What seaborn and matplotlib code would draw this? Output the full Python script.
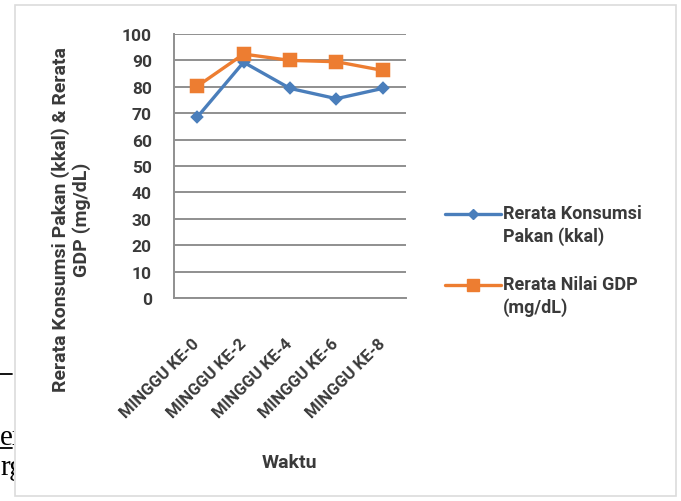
import numpy as np
import pandas as pd
import matplotlib.pyplot as plt
import seaborn as sns
from matplotlib.lines import Line2D
from matplotlib.patches import Rectangle
from matplotlib.ticker import MultipleLocator
from matplotlib.transforms import Bbox, TransformedBbox

weeks = ['MINGGU KE-0', 'MINGGU KE-2', 'MINGGU KE-4', 'MINGGU KE-6', 'MINGGU KE-8']
konsumsi_pakan = [68.5, 89.3, 79.4, 75.5, 79.4]
nilai_gdp = [80.2, 92.4, 90.0, 89.5, 86.2]
series_names = ['Rerata Konsumsi\nPakan (kkal)', 'Rerata Nilai GDP\n(mg/dL)']
y_ticks = list(range(0, 101, 10))

df = pd.DataFrame({
    'Waktu': weeks * 2,
    'nilai': konsumsi_pakan + nilai_gdp,
    'seri': [series_names[0]] * len(weeks) + [series_names[1]] * len(weeks),
})

sns.set_style("white")
plt.rcParams['font.family'] = ['Roboto', 'DejaVu Sans']
text_color = '#3a3a3a'
grid_color = '#8f8f8f'

fig = plt.figure(figsize=(6.81, 5.02), dpi=100)
ax = fig.add_axes([174 / 681, 1 - 299 / 502, 232 / 681, 264 / 502])

palette = {series_names[0]: '#4a7ebb', series_names[1]: '#ed7d31'}
sns.pointplot(data=df, x='Waktu', y='nilai', hue='seri', order=weeks,
              hue_order=series_names, palette=palette, markers=['D', 's'],
              linestyles=['-', '-'], linewidth=2.4, ax=ax, legend=False)
for line in ax.lines:
    if line.get_marker() == 's':
        line.set_markersize(8.5)
    elif line.get_marker() == 'D':
        line.set_markersize(5.5)

ax.set_ylim(0, 100)
ax.set_xlim(-0.5, len(weeks) - 0.5)
ax.set_yticks(y_ticks)
ax.set_yticklabels([str(t) for t in y_ticks], fontsize=12.5, fontweight='bold', color=text_color)
ax.set_xticks(range(len(weeks)))
ax.set_xticklabels(weeks, rotation=45, ha='right', va='center', rotation_mode='anchor',
                   fontsize=12, fontweight='bold', color=text_color)
ax.xaxis.set_minor_locator(MultipleLocator(1, offset=0.5))
ax.tick_params(axis='x', which='major', length=0, pad=31)
ax.tick_params(axis='x', which='minor', length=5, color=grid_color, width=1.2, direction='out')
ax.tick_params(axis='y', length=6, color=grid_color, width=1.2, direction='out', pad=10)
ax.grid(axis='y', color=grid_color, linewidth=1.4)
ax.set_axisbelow(True)
for side in ['top', 'right']:
    ax.spines[side].set_visible(False)
for side in ['left', 'bottom']:
    ax.spines[side].set_color(grid_color)
    ax.spines[side].set_linewidth(1.4)

ax.set_xlabel('')
ax.set_ylabel('')
fig.text(289 / 681, 1 - 463 / 502, 'Waktu', ha='center', va='center',
         fontsize=14, fontweight='bold', color=text_color)
fig.text(71 / 681, 1 - 220 / 502, 'Rerata Konsumsi Pakan (kkal) & Rerata\nGDP (mg/dL)',
         rotation=90, ha='center', va='center', ma='center', fontsize=14,
         fontweight='bold', color=text_color, linespacing=1.15)

# legend: handle sits next to the first line of each two-line label
handles = [Line2D([], [], color=palette[s], marker=m, markersize=ms, linewidth=2.4)
           for s, m, ms in zip(series_names, ['D', 's'], [5.5, 8.5])]
leg = ax.legend(handles, series_names, loc='upper left',
                bbox_to_anchor=(445 / 681, 1 - 205 / 502),
                bbox_transform=fig.transFigure, frameon=False, fontsize=13,
                handlelength=3.1, handletextpad=0.1, labelspacing=1.65,
                borderpad=0, borderaxespad=0)
for t in leg.get_texts():
    t.set_color(text_color)
    t.set_fontweight('bold')
    t.set_linespacing(1.3)
for hl in leg.get_lines():
    hl.set_ydata(np.asarray(hl.get_ydata()) + 8)

# light frame around the chart
fig.patches.append(Rectangle((15 / 681, 5 / 502), 661 / 681, 491 / 502,
                             transform=fig.transFigure, fill=False,
                             edgecolor='#dcdcdc', linewidth=1.2))

# cut-off bits of the surrounding page at the left edge
clip = TransformedBbox(Bbox([[0, 0], [14 / 681, 1]]), fig.transFigure)
for ypix in [375, 449]:
    fig.add_artist(Line2D([0, 12 / 681], [1 - ypix / 502] * 2,
                          transform=fig.transFigure, color='black', linewidth=1.3))
for txt, ypix in [('en', 438), ('rg', 468)]:
    t = fig.text(0, 1 - ypix / 502, txt, ha='left', va='center', fontsize=21,
                 family='Liberation Serif', color='black')
    t.set_clip_box(clip)
    t.set_clip_on(True)

fig.savefig('out.png', dpi=100)
